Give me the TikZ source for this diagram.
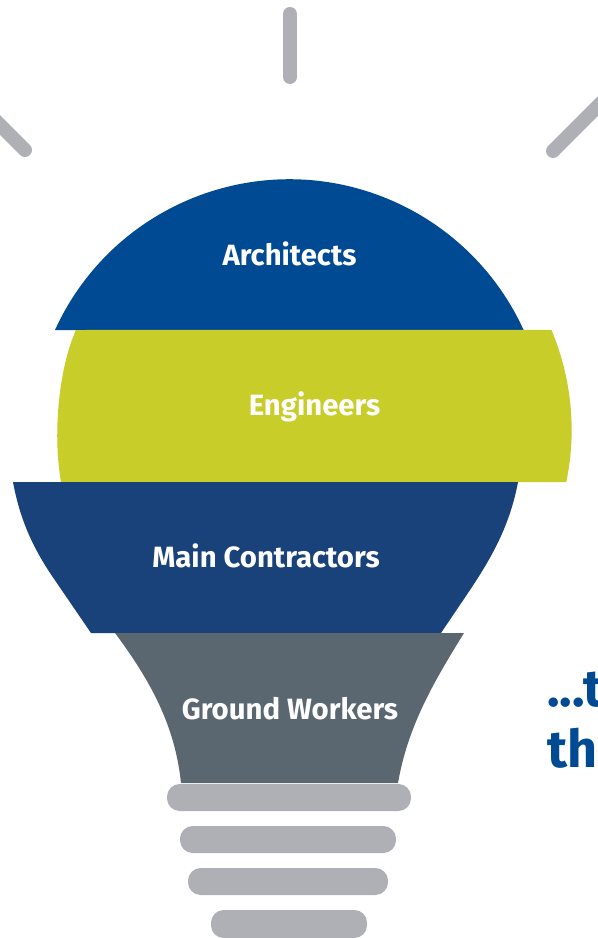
\documentclass[tikz,border=0pt]{standalone}
\usepackage{fontspec}
\setmainfont{Fira Sans}
\usepackage{xcolor}
\definecolor{archblue}{HTML}{004A93}
\definecolor{enggreen}{HTML}{C9CD2A}
\definecolor{mainblue}{HTML}{19427A}
\definecolor{groundgrey}{HTML}{5A6670}
\definecolor{bargrey}{HTML}{AFB0B6}
\tikzset{
    layerlabel/.style={text=white, font=\fontsize{22}{25}\selectfont\bfseries, inner sep=0pt, anchor=base},
    sidetext/.style={text=archblue, font=\fontsize{39}{44}\selectfont\bfseries, inner sep=0pt, anchor=base west},
    raybar/.style={draw=bargrey, line width=10.5pt, line cap=round},
    basebar/.style={fill=bargrey, rounded corners=9.5pt}
}
\begin{document}
\begin{tikzpicture}[x=0.75pt, y=-0.75pt]

    \useasboundingbox (0,0) rectangle (598,938);
    \clip (0,0) rectangle (598,938);

    % rays
    \coordinate (raytopa) at (290,14);
    \coordinate (raytopb) at (290,77);
    \coordinate (raylefta) at (-20,105);
    \coordinate (rayleftb) at (25,150);
    \coordinate (rayrighta) at (620,84);
    \coordinate (rayrightb) at (553,151);
    \draw[raybar] (raytopa) -- (raytopb);
    \draw[raybar] (raylefta) -- (rayleftb);
    \draw[raybar] (rayrighta) -- (rayrightb);

    % bulb layers
    \fill[archblue] (55,330) arc[start angle=204.5, end angle=335.5, radius=257.5] -- cycle;
    \fill[enggreen] (76,330) .. controls (60,365) and (52,430) .. (61,482)
        -- (566.3,482) arc[start angle=11.7, end angle=-22.9, radius=257] -- cycle;
    \fill[mainblue] (13,482) .. controls (20,520) and (33,547) .. (50,573) -- (91,633)
        -- (441,633) -- (470,590) .. controls (492,557) and (510,525) .. (518,482) -- cycle;
    \fill[groundgrey] (115,633) .. controls (150,680) and (175,725) .. (181,783)
        -- (398,783) .. controls (408,725) and (435,680) .. (464,633) -- cycle;

    % labels
    \node[layerlabel] (architects) at (289.5,265) {Architects};
    \node[layerlabel] (engineers) at (314.5,415) {Engineers};
    \node[layerlabel] (contractors) at (266,567) {Main Contractors};
    \node[layerlabel] (workers) at (290,719) {Ground Workers};

    % base of the bulb
    \fill[basebar] (167,784) rectangle (411,811);
    \fill[basebar] (180,826) rectangle (396,853);
    \fill[basebar] (188,868) rectangle (388,895);
    \fill[basebar] (211,910) rectangle (367,938);

    % cut off text
    \node[sidetext] (lineone) at (547,706) {...t};
    \node[sidetext] (linetwo) at (547,767) {th};
\end{tikzpicture}
\end{document}
